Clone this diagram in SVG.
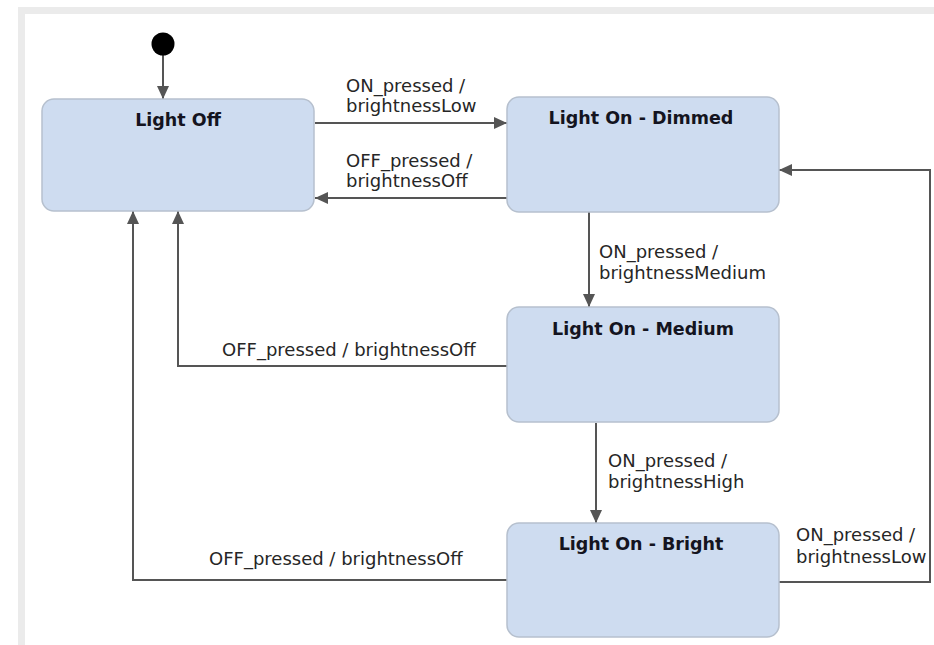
<svg xmlns="http://www.w3.org/2000/svg" width="934" height="645" viewBox="0 0 934 645">
  <style>
    .state { fill: #cedcf0; stroke: #b6c0ce; stroke-width: 1.5; }
    .title { font-family: "DejaVu Sans", Verdana, sans-serif; font-weight: bold; font-size: 17.5px; fill: #141420; text-anchor: middle; }
    .label { font-family: "DejaVu Sans", Verdana, sans-serif; font-size: 18px; fill: #262626; }
    .edge { fill: none; stroke: #555555; stroke-width: 2; }
  </style>
  <defs>
    <marker id="arrow" markerUnits="userSpaceOnUse" markerWidth="14" markerHeight="12" refX="13" refY="6" orient="auto">
      <path d="M0,0 L13,6 L0,12 Z" fill="#555555"/>
    </marker>
  </defs>

  <!-- canvas panel with a soft edge on top and left -->
  <rect x="0" y="0" width="934" height="645" fill="#ffffff"/>
  <rect x="18" y="7" width="916" height="7" fill="#ebebeb"/>
  <rect x="18" y="7" width="7" height="638" fill="#ebebeb"/>

  <!-- connectors -->
  <g id="connectors">
    <line class="edge" x1="163" y1="55" x2="163" y2="99" marker-end="url(#arrow)"/>
    <line class="edge" x1="315" y1="123" x2="507" y2="123" marker-end="url(#arrow)"/>
    <line class="edge" x1="507" y1="198" x2="315" y2="198" marker-end="url(#arrow)"/>
    <line class="edge" x1="589" y1="212" x2="589" y2="307" marker-end="url(#arrow)"/>
    <polyline class="edge" points="507,366 178,366 178,211" marker-end="url(#arrow)"/>
    <line class="edge" x1="596" y1="423" x2="596" y2="523" marker-end="url(#arrow)"/>
    <polyline class="edge" points="507,580 133,580 133,211" marker-end="url(#arrow)"/>
    <polyline class="edge" points="779,582 930,582 930,170 779,170" marker-end="url(#arrow)"/>

    <text class="label" x="346" y="92">ON_pressed /</text>
    <text class="label" x="346" y="112">brightnessLow</text>
    <text class="label" x="346" y="167">OFF_pressed /</text>
    <text class="label" x="346" y="187">brightnessOff</text>
    <text class="label" x="599" y="258">ON_pressed /</text>
    <text class="label" x="599" y="279">brightnessMedium</text>
    <text class="label" x="222" y="356">OFF_pressed / brightnessOff</text>
    <text class="label" x="608" y="467">ON_pressed /</text>
    <text class="label" x="608" y="488">brightnessHigh</text>
    <text class="label" x="796" y="541">ON_pressed /</text>
    <text class="label" x="796" y="563">brightnessLow</text>
    <text class="label" x="209" y="565">OFF_pressed / brightnessOff</text>
  </g>

  <!-- initial pseudo-state -->
  <g id="initial">
    <circle cx="163" cy="44" r="11.5" fill="#000000"/>
  </g>

  <g id="light-off">
    <rect class="state" x="42" y="99" width="272" height="112" rx="12"/>
    <text class="title" x="178" y="126">Light Off</text>
  </g>

  <g id="light-on-dimmed">
    <rect class="state" x="507" y="97" width="272" height="115" rx="12"/>
    <text class="title" x="641" y="124">Light On - Dimmed</text>
  </g>

  <g id="light-on-medium">
    <rect class="state" x="507" y="307" width="272" height="115" rx="12"/>
    <text class="title" x="643" y="335">Light On - Medium</text>
  </g>

  <g id="light-on-bright">
    <rect class="state" x="507" y="523" width="272" height="114" rx="12"/>
    <text class="title" x="641" y="550">Light On - Bright</text>
  </g>
</svg>
